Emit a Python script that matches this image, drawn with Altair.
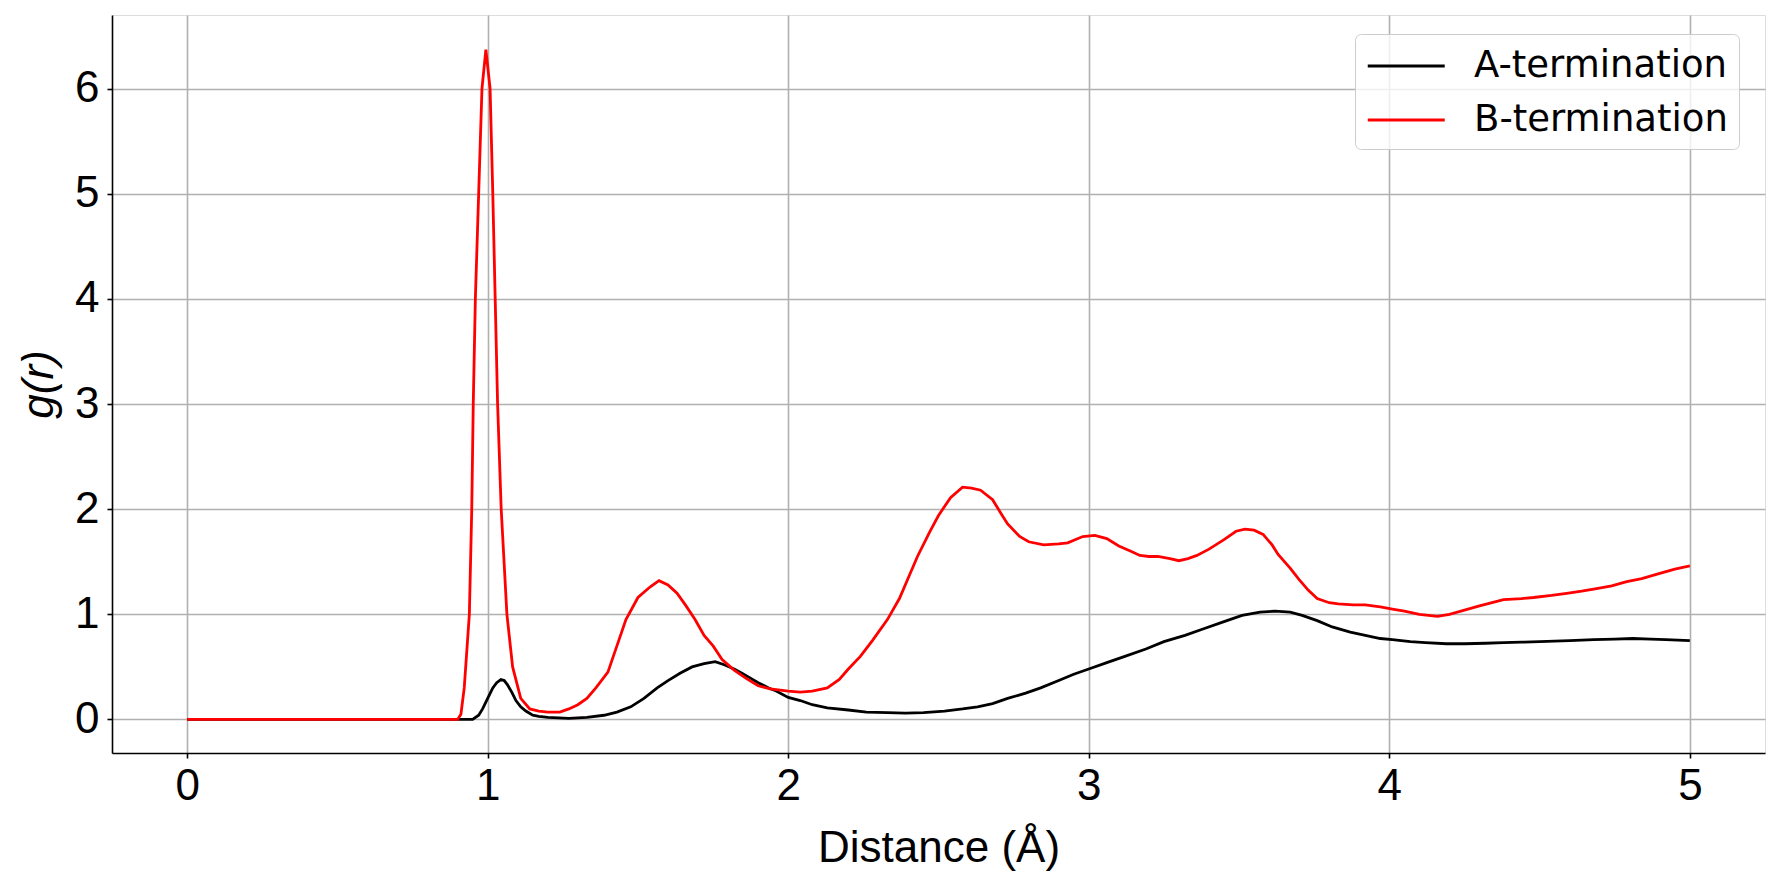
import altair as alt
import pandas as pd

series_names = ["A-termination", "B-termination"]
series_colors = ["black", "red"]

a_r = [0.0, 0.5, 0.95, 0.97, 0.983, 1.0, 1.017, 1.03, 1.044, 1.055, 1.066, 1.08, 1.094, 1.11, 1.127,
       1.15, 1.17, 1.2, 1.27, 1.33, 1.387, 1.43, 1.476, 1.52, 1.564, 1.6, 1.64, 1.68, 1.72, 1.757,
       1.787, 1.82, 1.846, 1.87, 1.9, 1.935, 1.96, 2.0, 2.04, 2.08, 2.13, 2.2, 2.26, 2.33, 2.39,
       2.45, 2.52, 2.58, 2.63, 2.68, 2.73, 2.79, 2.84, 2.9, 2.95, 3.0, 3.06, 3.12, 3.19, 3.25,
       3.32, 3.38, 3.45, 3.51, 3.57, 3.62, 3.67, 3.71, 3.76, 3.81, 3.87, 3.92, 3.97, 4.01, 4.07,
       4.12, 4.19, 4.25, 4.32, 4.38, 4.44, 4.5, 4.6, 4.68, 4.75, 4.81, 4.87, 4.92, 5.0]
a_g = [0.0, 0.0, 0.0, 0.04, 0.1, 0.2, 0.3, 0.35, 0.38, 0.37, 0.33, 0.26, 0.18, 0.12, 0.08,
       0.04, 0.03, 0.02, 0.01, 0.02, 0.04, 0.07, 0.12, 0.2, 0.3, 0.37, 0.44, 0.5, 0.53, 0.55,
       0.52, 0.48, 0.44, 0.40, 0.35, 0.30, 0.27, 0.21, 0.18, 0.14, 0.11, 0.09, 0.07, 0.065, 0.06,
       0.065, 0.08, 0.1, 0.12, 0.15, 0.2, 0.25, 0.3, 0.37, 0.43, 0.48, 0.54, 0.6, 0.67, 0.74,
       0.8, 0.86, 0.93, 0.99, 1.02, 1.03, 1.02, 0.99, 0.94, 0.88, 0.83, 0.8, 0.77, 0.76, 0.74,
       0.73, 0.72, 0.72, 0.725, 0.73, 0.735, 0.74, 0.75, 0.76, 0.765, 0.77, 0.765, 0.76, 0.75]

b_r = [0.0, 0.5, 0.89, 0.90, 0.911, 0.922, 0.939, 0.947, 0.952, 0.959, 0.970, 0.981, 0.994, 1.008,
       1.017, 1.025, 1.033, 1.045, 1.064, 1.083, 1.11, 1.14, 1.17, 1.2, 1.24, 1.27, 1.3, 1.33,
       1.36, 1.40, 1.43, 1.46, 1.50, 1.54, 1.57, 1.60, 1.63, 1.66, 1.69, 1.72, 1.75, 1.78, 1.82,
       1.86, 1.9, 1.94, 2.0, 2.04, 2.08, 2.13, 2.17, 2.2, 2.24, 2.28, 2.33, 2.37, 2.40, 2.43,
       2.47, 2.50, 2.54, 2.58, 2.61, 2.64, 2.68, 2.71, 2.73, 2.77, 2.8, 2.85, 2.9, 2.93, 2.98,
       3.02, 3.06, 3.1, 3.14, 3.17, 3.2, 3.23, 3.27, 3.3, 3.33, 3.36, 3.4, 3.45, 3.49, 3.52,
       3.55, 3.58, 3.61, 3.63, 3.67, 3.7, 3.73, 3.76, 3.8, 3.83, 3.88, 3.92, 3.97, 4.01, 4.05,
       4.1, 4.16, 4.2, 4.25, 4.3, 4.38, 4.44, 4.48, 4.54, 4.59, 4.64, 4.68, 4.74, 4.79, 4.84,
       4.9, 4.95, 5.0]
b_g = [0.0, 0.0, 0.0, 0.0, 0.05, 0.3, 1.0, 2.0, 3.0, 4.0, 5.0, 6.0, 6.37, 6.0,
       5.0, 4.0, 3.0, 2.0, 1.0, 0.5, 0.2, 0.1, 0.08, 0.07, 0.07, 0.1, 0.14, 0.2,
       0.3, 0.45, 0.7, 0.95, 1.16, 1.26, 1.32, 1.28, 1.2, 1.08, 0.95, 0.8, 0.7, 0.57, 0.47,
       0.39, 0.32, 0.29, 0.27, 0.26, 0.27, 0.30, 0.38, 0.48, 0.6, 0.75, 0.95, 1.15, 1.35, 1.55,
       1.78, 1.94, 2.11, 2.21, 2.2, 2.18, 2.09, 1.95, 1.86, 1.74, 1.69, 1.66, 1.67, 1.68, 1.74,
       1.75, 1.72, 1.65, 1.6, 1.56, 1.55, 1.55, 1.53, 1.51, 1.53, 1.56, 1.62, 1.71, 1.79, 1.81,
       1.8, 1.76, 1.66, 1.57, 1.44, 1.33, 1.23, 1.15, 1.11, 1.1, 1.09, 1.09, 1.07, 1.05, 1.03,
       1.0, 0.98, 1.0, 1.04, 1.08, 1.14, 1.15, 1.16, 1.18, 1.2, 1.22, 1.24, 1.27, 1.31, 1.34,
       1.39, 1.43, 1.46]

x_ticks = [0, 1, 2, 3, 4, 5]
y_ticks = [0, 1, 2, 3, 4, 5, 6]

rows = []
for i, (r, g) in enumerate(zip(a_r, a_g)):
    rows.append({"r": r, "g": g, "series": series_names[0], "i": i})
for i, (r, g) in enumerate(zip(b_r, b_g)):
    rows.append({"r": r, "g": g, "series": series_names[1], "i": i})
df = pd.DataFrame(rows)

FONT = "DejaVu Sans"
LW = 1.6

chart = alt.Chart(df).mark_line(strokeWidth=2.8, clip=True).encode(
    x=alt.X("r:Q",
            scale=alt.Scale(domain=[-0.25, 5.25], nice=False, zero=False),
            axis=alt.Axis(values=x_ticks, title="Distance (Å)", format="d",
                          labelFontSize=44, titleFontSize=44, labelPadding=6,
                          titleX=826.5, titleY=108, titleBaseline="alphabetic",
                          titleAnchor="start", titleAlign="center",
                          titleFontWeight="normal",
                          domainColor="black", domainWidth=LW, gridColor="#b0b0b0",
                          gridWidth=LW, tickColor="black", tickWidth=LW)),
    y=alt.Y("g:Q",
            scale=alt.Scale(domain=[-0.319, 6.70], nice=False, zero=False),
            axis=alt.Axis(values=y_ticks, title="g(r)", format="d",
                          labelFontSize=44, titleFontSize=44, labelPadding=8,
                          titleFontStyle="italic", titleFontWeight="normal",
                          titleAngle=-90, titleX=-73, titleY=369,
                          titleAlign="center", titleBaseline="middle", titleAnchor="start",
                          domainColor="black", domainWidth=LW, gridColor="#b0b0b0",
                          gridWidth=LW, tickColor="black", tickWidth=LW)),
    color=alt.Color("series:N",
                    scale=alt.Scale(domain=series_names, range=series_colors),
                    legend=alt.Legend(title=None, orient="none", legendX=1243, legendY=19,
                                      symbolType="M-1,0H3", symbolSize=1482,
                                      symbolStrokeWidth=2.8, labelFontSize=37,
                                      labelFont=FONT, labelOffset=66, rowPadding=15,
                                      labelLimit=0, labelColor="black",
                                      padding=11, fillColor="rgba(255,255,255,0.8)",
                                      strokeColor="#cccccc", cornerRadius=6)),
    order="i:Q",
).properties(
    width=1653, height=738,
    autosize=alt.AutoSizeParams(type="none"),
    padding={"left": 112, "top": 15, "right": 17, "bottom": 133},
).configure_axis(
    labelFont=FONT, titleFont=FONT, labelColor="black", titleColor="black",
    grid=True, tickSize=8,
).configure_view(
    stroke="black", strokeWidth=LW,
).configure(background="white")

chart.save("out.html", embed_options={"renderer": "svg", "actions": False})
